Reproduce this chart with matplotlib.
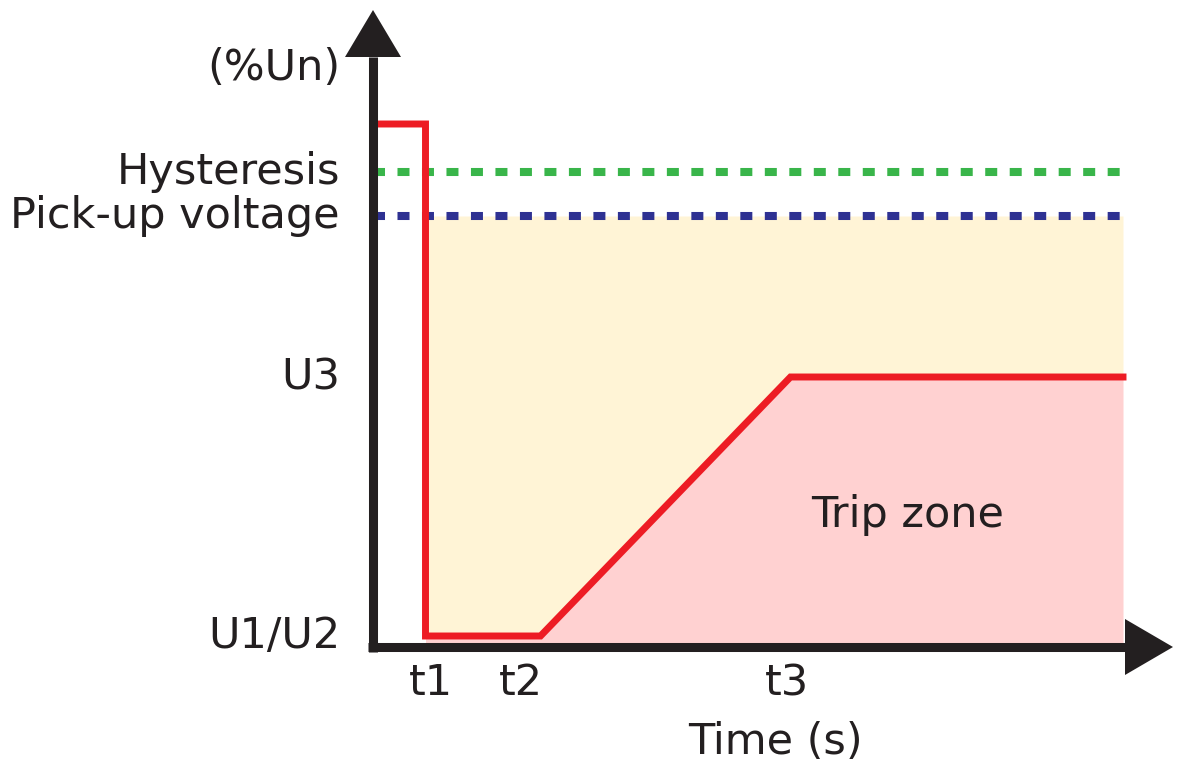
import matplotlib.pyplot as plt

# Undervoltage trip characteristic (schematic units: time in s, voltage in %Un)
t_labels = ["t1", "t2", "t3"]
t_values = [1.05, 3.35, 8.35]
t_end = 15.0

level_labels = ["U1/U2", "U3", "Pick-up voltage", "Hysteresis"]
level_values = [2.2, 54.0, 86.2, 95.0]
pre_fault = 104.6

u12, u3, pickup, hyst = level_values
t1, t2, t3 = t_values

# red voltage profile
curve_t = [0.0, t1, t1, t2, t3, t_end]
curve_u = [pre_fault, pre_fault, u12, u12, u3, u3]

black = "#231f20"
red = "#ed1c24"
green = "#39b54a"
blue = "#2e3192"
yellow = "#fff4d6"
pink = "#ffd1d1"

plt.rcParams["font.family"] = "DejaVu Sans"
fig = plt.figure(figsize=(11.81, 7.65), dpi=100)
ax = fig.add_axes([0, 0, 1, 1])
ax.set_xlim(-7.46, 16.16)
ax.set_ylim(-23.6, 129.4)
ax.axis("off")

# zones
ax.fill_between(curve_t[2:], curve_u[2:], pickup, color=yellow, lw=0, zorder=1)
ax.fill_between(curve_t[2:], 0, curve_u[2:], color=pink, lw=0, zorder=1)

# threshold lines
for lvl, col in [(hyst, green), (pickup, blue)]:
    ax.plot([0, t_end], [lvl, lvl], color=col, lw=5.8, dashes=(1.49, 1.55),
            dash_capstyle="butt", zorder=2)

ax.plot(curve_t, curve_u, color=red, lw=5.0, solid_joinstyle="miter", zorder=3)

# axes with arrow heads
y_base, y_tip = 118.0, 127.4
x_base, x_tip = 15.04, 16.0
ax.plot([0, 0], [-0.9, y_base], color=black, lw=6.5, solid_capstyle="butt", zorder=4)
ax.plot([-0.09, x_base], [0, 0], color=black, lw=6.5, solid_capstyle="butt", zorder=4)
ax.fill([-0.56, 0.56, 0], [y_base, y_base, y_tip], color=black, lw=0, zorder=4)
ax.fill([x_base, x_base, x_tip], [-5.6, 5.6, 0], color=black, lw=0, zorder=4)

fs = 31
for lab, val in zip(level_labels, level_values):
    ax.text(-0.66, val, lab, ha="right", va="center", fontsize=fs, color=black)
ax.text(-0.66, 115.8, "(%Un)", ha="right", va="center", fontsize=fs, color=black)

# time labels sit slightly off the corners of the profile
label_shift = [5, -20, -4]
for lab, val, dx in zip(t_labels, t_values, label_shift):
    ax.annotate(lab, (val, -7.2), xytext=(dx, 0), textcoords="offset pixels",
                ha="center", va="center", fontsize=fs, color=black)
ax.text(8.04, -19.0, "Time (s)", ha="center", va="center", fontsize=fs, color=black)
ax.text(10.7, 26.4, "Trip zone", ha="center", va="center", fontsize=fs, color=black)

fig.savefig("out.png", dpi=100)
